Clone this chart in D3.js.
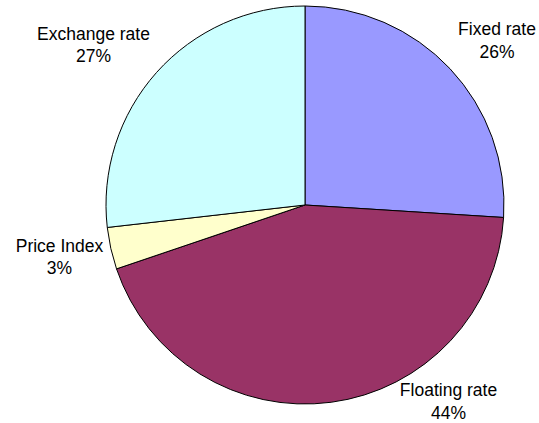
<!DOCTYPE html>
<html><head><meta charset="utf-8">
<script src="https://cdn.jsdelivr.net/npm/d3@7"></script>
<style>body{margin:0;background:#fff}svg{display:block}</style>
</head><body>
<svg id="c" width="539" height="423"></svg>
<script>
const categories = ["Fixed rate", "Floating rate", "Price Index", "Exchange rate"];
const values = [26.0, 43.8, 3.4, 26.8];
const colors = ["#9999FF", "#993366", "#FFFFCC", "#CCFFFF"];
// label anchor positions (layout, Excel "best fit" placement)
const labelPos = [[497, 35], [448.5, 396], [59.5, 251.7], [93.5, 39.5]];

const svg = d3.select("#c");
const cx = 305, cy = 205, r = 199;
const pie = d3.pie().sort(null).value(d => d)(values);
const arc = d3.arc().innerRadius(0).outerRadius(r);
const g = svg.append("g").attr("transform", `translate(${cx},${cy})`);
g.selectAll("path").data(pie).join("path")
  .attr("d", arc)
  .attr("fill", (d, i) => colors[i])
  .attr("stroke", "#000").attr("stroke-width", 1).attr("stroke-linejoin", "round");

const total = d3.sum(values);
const lab = svg.selectAll("text.l").data(pie).join("text").attr("class", "l")
  .attr("font-family", "Liberation Sans, Arial, sans-serif").attr("font-size", 17.5)
  .attr("fill", "#000").attr("text-anchor", "middle");
lab.append("tspan").attr("x", (d, i) => labelPos[i][0]).attr("y", (d, i) => labelPos[i][1])
  .text((d, i) => categories[i]);
lab.append("tspan").attr("x", (d, i) => labelPos[i][0]).attr("dy", 22.5)
  .text(d => Math.round(d.value / total * 100) + "%");
</script>
</body></html>
